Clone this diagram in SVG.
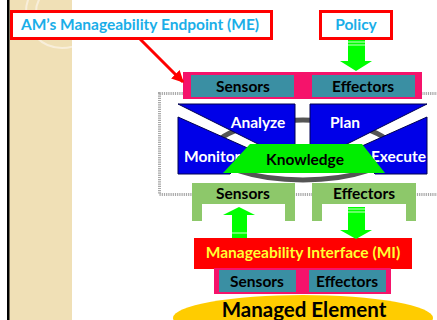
<svg xmlns="http://www.w3.org/2000/svg" width="437" height="320" viewBox="0 0 437 320">
<defs>
<style>
.t{font-family:Lato,"Open Sans","DejaVu Sans",sans-serif;font-weight:bold;font-size:15.5px;text-anchor:middle}
.blk{fill:#000}
.wht{fill:#fff}
.teal{fill:#3A8FA3}
.pink{fill:#F5136B}
.lg{fill:#8DC86A}
.ga{fill:#00FF00}
.mape{fill:#0000E8;stroke:#000050;stroke-width:1}
</style>
<marker id="ra" viewBox="0 0 10 10" refX="9" refY="5" markerWidth="4" markerHeight="4" orient="auto" markerUnits="strokeWidth"><path d="M0,0 L10,5 L0,10 z" fill="#FF0000"/></marker>
<clipPath id="strip"><rect x="9" y="0" width="63" height="320"/></clipPath>
</defs>
<rect width="437" height="320" fill="#fff"/>
<g id="background">
<rect x="9" y="0" width="63" height="320" fill="#F0E0B6"/>
<g clip-path="url(#strip)" fill="none" stroke="#F8EEDA" stroke-width="2">
<circle cx="62" cy="12" r="36"/>
<circle cx="62" cy="12" r="26"/>
</g>
<rect x="7" y="0" width="2.5" height="320" fill="#000"/>
</g>
<g id="frame">
<rect x="159.5" y="93.5" width="290" height="101" fill="#fff" stroke="#A8A8A8" stroke-width="3" stroke-dasharray="1.2 1"/>
</g>
<g id="me">
<rect x="11.5" y="11.5" width="260" height="27" fill="#fff" stroke="#FF0000" stroke-width="3"/>
<text x="140" y="30" class="t" fill="#1AAEE8">AM’s Manageability Endpoint (ME)</text>
</g>
<g id="policy">
<rect x="320.5" y="11.5" width="71" height="27" fill="#fff" stroke="#FF0000" stroke-width="3"/>
<text x="356" y="30" class="t" fill="#1AAEE8">Policy</text>
</g>
<g id="top-touchpoint">
<rect x="183" y="72" width="239" height="27" class="pink"/>
<rect x="191" y="75" width="103" height="22" class="teal"/>
<rect x="312" y="75" width="103" height="22" class="teal"/>
<text x="243" y="92" class="t blk">Sensors</text>
<text x="363" y="92" class="t blk">Effectors</text>
</g>
<g id="mape-k">
<ellipse cx="303" cy="150" rx="89" ry="30" fill="none" stroke="#555" stroke-width="5"/>
<g id="analyze">
<polygon class="mape" points="178,104 295,104 295,148 266,148"/>
<text x="258" y="128" class="t wht">Analyze</text>
</g>
<g id="monitor">
<polygon class="mape" points="178,117 252,150 230,174 178,174"/>
<text x="184" y="162" class="t wht" style="text-anchor:start">Monitor</text>
</g>
<g id="plan">
<polygon class="mape" points="310,104 427,104 339,148 310,148"/>
<text x="345" y="128" class="t wht">Plan</text>
</g>
<g id="execute">
<polygon class="mape" points="427,117 353,150 375,174 427,174"/>
<text x="426" y="162" class="t wht" style="text-anchor:end">Execute</text>
</g>
<g id="knowledge">
<polygon points="250,144 362,144 385,173 223,173" fill="#00EE00"/>
<text x="305" y="165" class="t blk">Knowledge</text>
</g>
</g>
<g id="bottom-touchpoint">
<path d="M192,183 H295 V221 H285 V204 H202 V221 H192 Z" class="lg"/>
<path d="M312,183 H416 V221 H406 V204 H322 V221 H312 Z" class="lg"/>
<text x="243" y="199" class="t blk">Sensors</text>
<text x="364" y="199" class="t blk">Effectors</text>
</g>
<g id="mi">
<rect x="194" y="238" width="218" height="31" fill="#FF0000"/>
<text x="303" y="258" class="t" fill="#FFFF33">Manageability Interface (MI)</text>
</g>
<g id="managed-element">
<ellipse cx="303" cy="318" rx="130" ry="23" fill="#FFCC00"/>
<text x="304" y="317" class="t blk" style="font-size:20.5px">Managed Element</text>
</g>
<g id="me-touchpoint">
<rect x="214" y="268" width="177" height="26" class="pink"/>
<rect x="219" y="270" width="77" height="22" class="teal"/>
<rect x="309" y="270" width="77" height="22" class="teal"/>
<text x="257" y="287" class="t blk">Sensors</text>
<text x="347" y="287" class="t blk">Effectors</text>
</g>
<g id="connectors">
<line x1="140" y1="39" x2="183" y2="82" stroke="#FF0000" stroke-width="3" marker-end="url(#ra)"/>
<g id="policy-arrow">
<path d="M348,40 H365 V61 H372 L356,71 L340,61 H348 Z" class="ga"/>
<path d="M348,42 H365 M348,45 H365" stroke="#CCFFCC" stroke-width="1"/>
</g>
<g id="sensors-arrow">
<path d="M232,238 V215 H223 L239,207 L255,215 H247 V238 Z" class="ga"/>
<path d="M232,233 H247" stroke="#CCFFCC" stroke-width="1"/>
</g>
<g id="effectors-arrow">
<path d="M348,207 H365 V230 H372 L356,239 L340,230 H348 Z" class="ga"/>
<path d="M348,209 H365 M348,212 H365" stroke="#CCFFCC" stroke-width="1"/>
</g>
</g>
</svg>
